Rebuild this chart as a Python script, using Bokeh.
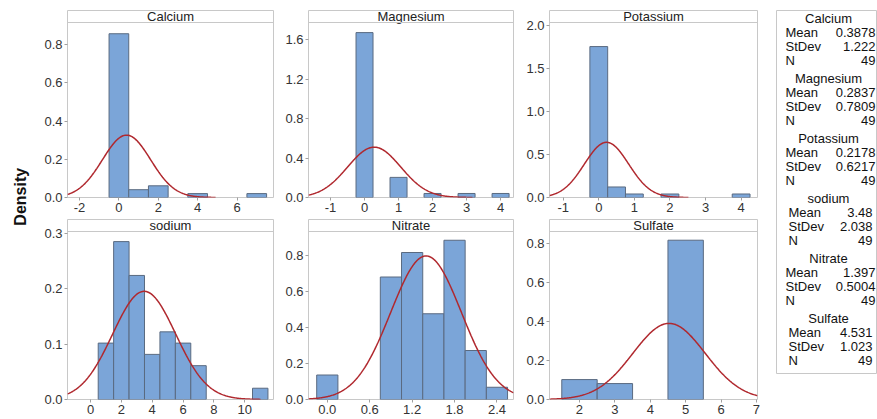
import numpy as np
from bokeh.plotting import figure
from bokeh.models import Range1d, FixedTicker, PrintfTickFormatter, ColumnDataSource, Span
from bokeh.layouts import row, column
from bokeh.core.properties import value
from bokeh.embed import file_html
from bokeh.resources import INLINE

# ---------------- data ----------------
names = ["Calcium", "Magnesium", "Potassium", "sodium", "Nitrate", "Sulfate"]
means = [0.3878, 0.2837, 0.2178, 3.48, 1.397, 4.531]
stdevs = [1.222, 0.7809, 0.6217, 2.038, 0.5004, 1.023]
ns = [49, 49, 49, 49, 49, 49]

calcium_bins = [0, 1, 2, 4, 7]
calcium_counts = [42, 2, 3, 1, 1]
magnesium_bins = [0, 1, 2, 3, 4]
magnesium_counts = [41, 5, 1, 1, 1]
potassium_bins = [0, 0.5, 1, 2, 4]
potassium_counts = [43, 3, 1, 1, 1]
sodium_bins = [1, 2, 3, 4, 5, 6, 7, 11]
sodium_counts = [5, 14, 11, 4, 6, 5, 3, 1]
nitrate_bins = [0.0, 0.9, 1.2, 1.5, 1.8, 2.1, 2.4]
nitrate_counts = [2, 10, 12, 7, 13, 4, 1]
sulfate_bins = [2, 3, 5]
sulfate_counts = [5, 4, 40]
bin_widths = [1, 0.5, 0.5, 1, 0.3, 1]

calcium_xticks = [-2, 0, 2, 4, 6]
magnesium_xticks = [-1, 0, 1, 2, 3, 4]
potassium_xticks = [-1, 0, 1, 2, 3, 4]
sodium_xticks = [0, 2, 4, 6, 8, 10]
nitrate_xticks = [0.0, 0.6, 1.2, 1.8, 2.4]
sulfate_xticks = [2, 3, 4, 5, 6, 7]
calcium_yticks = [0.0, 0.2, 0.4, 0.6, 0.8]
magnesium_yticks = [0.0, 0.4, 0.8, 1.2, 1.6]
potassium_yticks = [0.0, 0.5, 1.0, 1.5, 2.0]
sodium_yticks = [0.0, 0.1, 0.2, 0.3]
nitrate_yticks = [0.0, 0.2, 0.4, 0.6, 0.8]
sulfate_yticks = [0.0, 0.2, 0.4, 0.6, 0.8]

# view ranges
x_ranges = [(-2.61, 7.85), (-1.647, 4.38), (-1.385, 4.46), (-1.49, 11.86), (-0.266, 2.634), (1.153, 7.03)]
y_tops = [0.916, 1.776, 2.035, 0.304, 0.933, 0.861]
x_formats = ["%d", "%d", "%d", "%d", "%.1f", "%d"]

bins_all = [calcium_bins, magnesium_bins, potassium_bins, sodium_bins, nitrate_bins, sulfate_bins]
counts_all = [calcium_counts, magnesium_counts, potassium_counts, sodium_counts, nitrate_counts, sulfate_counts]
xticks_all = [calcium_xticks, magnesium_xticks, potassium_xticks, sodium_xticks, nitrate_xticks, sulfate_xticks]
yticks_all = [calcium_yticks, magnesium_yticks, potassium_yticks, sodium_yticks, nitrate_yticks, sulfate_yticks]

FONT = "Liberation Sans"
BAR_FILL = "#7ba5d8"
BAR_LINE = "#5a6a80"
CURVE = "#b0282e"
FRAME = "#c8c8c8"
STRIP_H = 12

# layout geometry (pixels)
left_borders = [29, 30, 31]
frame_widths = [206, 205, 208]
row_heights = [217, 202]
row_top_borders = [10, 2]
row_bottom_borders = [20, 20]


def panel(i):
    r, c = divmod(i, 3)
    fw = left_borders[c] + frame_widths[c] + 5
    fh = row_heights[r]
    frame_h = fh - row_top_borders[r] - row_bottom_borders[r]
    ymax = y_tops[i]
    yend = ymax * frame_h / (frame_h - STRIP_H)
    x0, x1 = x_ranges[i]
    p = figure(width=fw, height=fh, x_range=Range1d(x0, x1), y_range=Range1d(0, yend),
               output_backend="svg", toolbar_location=None,
               min_border_left=left_borders[c], min_border_right=5,
               min_border_top=row_top_borders[r], min_border_bottom=row_bottom_borders[r])
    p.grid.visible = False
    p.outline_line_color = FRAME
    p.outline_line_width = 1
    p.background_fill_color = "white"
    p.border_fill_color = "white"

    w = bin_widths[i]
    n = ns[i]
    centers = np.array(bins_all[i], dtype=float)
    dens = np.array(counts_all[i], dtype=float) / (n * w)
    src = ColumnDataSource(dict(left=centers - w / 2, right=centers + w / 2, top=dens))
    p.quad(left="left", right="right", top="top", bottom=0, source=src,
           fill_color=BAR_FILL, line_color=BAR_LINE, line_width=1)

    mu, sd = means[i], stdevs[i]
    lo = max(x0, mu - 3.7 * sd)
    hi = min(x1, mu + 3.7 * sd)
    xs = np.linspace(lo, hi, 300)
    ys = np.exp(-0.5 * ((xs - mu) / sd) ** 2) / (sd * np.sqrt(2 * np.pi))
    p.line(xs, ys, line_color=CURVE, line_width=1.5)

    p.add_layout(Span(location=ymax, dimension="width", line_color=FRAME, line_width=1))
    tsrc = ColumnDataSource(dict(x=[(x0 + x1) / 2], y=[(ymax + yend) / 2], t=[names[i]]))
    p.text(x="x", y="y", text="t", source=tsrc, text_align="center", text_baseline="middle",
           text_font=value(FONT), text_font_size="13px", text_color="#222222")

    p.xaxis.ticker = FixedTicker(ticks=xticks_all[i])
    p.xaxis.formatter = PrintfTickFormatter(format=x_formats[i])
    p.yaxis.ticker = FixedTicker(ticks=yticks_all[i])
    p.yaxis.formatter = PrintfTickFormatter(format="%.1f")
    for ax in (p.xaxis[0], p.yaxis[0]):
        ax.axis_line_color = None
        ax.major_tick_in = 0
        ax.major_tick_out = 3
        ax.major_tick_line_color = "#a0a0a0"
        ax.minor_tick_line_color = None
        ax.major_label_text_font = FONT
        ax.major_label_text_font_size = "13px"
        ax.major_label_text_color = "#333333"
        ax.major_label_standoff = 2
    return p


panels = [panel(i) for i in range(6)]
TOTAL_H = sum(row_heights)

# "Density" label
DW = 38
dfig = figure(width=DW, height=TOTAL_H, x_range=Range1d(0, DW), y_range=Range1d(TOTAL_H, 0),
              output_backend="svg", toolbar_location=None, x_axis_location=None, y_axis_location=None,
              min_border=0)
dfig.grid.visible = False
dfig.outline_line_color = None
dfig.text(x=[20], y=[215], text=["Density"], angle=np.pi / 2, text_align="center",
          text_baseline="middle", text_font=value(FONT), text_font_size="16px",
          text_font_style="bold", text_color="#111111")

# statistics legend
LW = 115
LFW = LW - 14 - 1
LFH = 363
lfig = figure(width=LW, height=TOTAL_H, x_range=Range1d(0, LFW), y_range=Range1d(LFH, 0),
              output_backend="svg", toolbar_location=None, x_axis_location=None, y_axis_location=None,
              min_border_left=14, min_border_right=1, min_border_top=10,
              min_border_bottom=TOTAL_H - 10 - LFH)
lfig.grid.visible = False
lfig.outline_line_color = FRAME

tx, ty, tt = [], [], []
lx, ly, lt = [], [], []
vx, vy, vt = [], [], []
for g, name in enumerate(names):
    base = 8 + 60 * g
    ind = 3 if name in ("sodium", "Sulfate") else 0
    tx.append(52); ty.append(base); tt.append(name)
    labels = ["Mean", "StDev", "N"]
    vals = [str(means[g]), str(stdevs[g]), str(ns[g])]
    for k in range(3):
        lx.append(9 + ind); ly.append(base + 14 * (k + 1)); lt.append(labels[k])
        vx.append(99 - ind); vy.append(base + 14 * (k + 1)); vt.append(vals[k])

for xs_, ys_, ts_, al in ((tx, ty, tt, "center"), (lx, ly, lt, "left"), (vx, vy, vt, "right")):
    lfig.text(x=xs_, y=ys_, text=ts_, text_align=al, text_baseline="middle",
              text_font=value(FONT), text_font_size="13px", text_color="#111111")

grid = column(row(*panels[:3]), row(*panels[3:]))
page = row(dfig, grid, lfig)

open("out.html", "w").write(file_html(page, INLINE))
